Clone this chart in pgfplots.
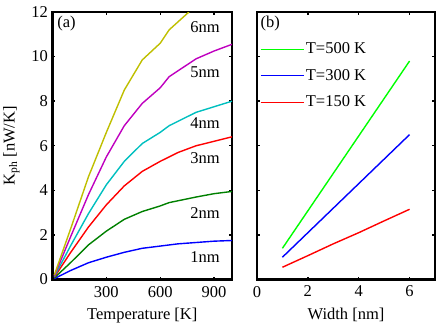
\documentclass[border=0pt]{standalone}
\usepackage{pgfplots}
\pgfplotsset{compat=1.18}
\usepackage{fontspec}
\setmainfont{Liberation Serif}
\definecolor{myy}{rgb}{0.75,0.75,0}
\definecolor{mym}{rgb}{0.75,0,0.75}
\definecolor{myc}{rgb}{0,0.75,0.75}
\definecolor{myg}{rgb}{0,0.5,0}
\begin{document}
\begin{tikzpicture}
\pgfplotsset{
  every axis/.append style={
    scale only axis,
    width=179.5pt, height=267.5pt,
    axis line style={line width=2.2pt},
    tick style={line width=1.4pt, black},
    tick align=inside,
    major tick length=3pt,
    font=\fontsize{16.5}{18}\selectfont,
    /pgf/number format/assume math mode=true,
    ymin=0, ymax=12,
    ytick={0,2,...,12},
    xticklabel style={yshift=-3pt},
    yticklabel style={xshift=-1pt},
    clip=true,
  },
}
\begin{axis}[
  at={(0pt,0pt)}, anchor=south west,
  xmin=0, xmax=1000,
  xtick={300,600,900},
  xlabel={Temperature [K]},
  ylabel={K$_{\mathrm{ph}}$ [nW/K]},
  xlabel style={yshift=-4pt},
  ylabel style={yshift=5pt},
]
\addplot[blue, line width=1.4pt] coordinates {(10,0.04) (100,0.4) (200,0.75) (300,1.0) (400,1.22) (500,1.4) (600,1.5) (700,1.6) (800,1.66) (900,1.72) (1000,1.75)};
\addplot[myg, line width=1.4pt] coordinates {(10,0.07) (100,0.75) (200,1.55) (300,2.17) (400,2.7) (500,3.05) (600,3.3) (650,3.45) (800,3.7) (900,3.85) (1000,3.95)};
\addplot[red, line width=1.4pt] coordinates {(10,0.1) (100,1.2) (200,2.35) (300,3.35) (400,4.2) (500,4.85) (600,5.3) (700,5.7) (800,6.0) (900,6.2) (1000,6.4)};
\addplot[myc, line width=1.4pt] coordinates {(10,0.13) (100,1.5) (200,2.95) (300,4.25) (400,5.3) (500,6.1) (600,6.6) (650,6.9) (800,7.5) (900,7.75) (1000,8.0)};
\addplot[mym, line width=1.4pt] coordinates {(10,0.16) (100,1.9) (200,3.8) (300,5.5) (400,6.9) (500,7.9) (600,8.6) (650,9.1) (800,9.9) (900,10.25) (1000,10.55)};
\addplot[myy, line width=1.4pt] coordinates {(10,0.2) (100,2.25) (200,4.6) (300,6.6) (400,8.5) (500,9.85) (600,10.6) (650,11.2) (760,12.0)};
\node[anchor=north west, inner sep=1pt] at (axis cs:20,11.85) {(a)};
\node at (axis cs:850,11.3) {6nm};
\node at (axis cs:850,9.3) {5nm};
\node at (axis cs:850,7.0) {4nm};
\node at (axis cs:850,5.45) {3nm};
\node at (axis cs:850,3.0) {2nm};
\node at (axis cs:850,1.0) {1nm};
\end{axis}
\begin{axis}[
  at={(204.5pt,0pt)}, anchor=south west,
  width=178pt,
  xmin=0, xmax=7,
  xtick={0,2,4,6},
  yticklabels={},
  xlabel={Width [nm]},
  xlabel style={yshift=-4pt},
  legend style={draw=none, fill=none, at={(0.0,0.90)}, anchor=north west,
    row sep=10pt, font=\fontsize{16.5}{18}\selectfont},
  legend cell align=left,
  legend image code/.code={\draw[#1, line width=0.7pt] (0pt,0pt) -- (43pt,0pt);},
]
\addplot[green, line width=1.4pt] coordinates {(1,1.4) (2,3.08) (3,4.76) (4,6.44) (5,8.12) (6,9.8)};
\addlegendentry{T=500 K}
\addplot[blue, line width=1.4pt] coordinates {(1,1.0) (2,2.1) (3,3.2) (4,4.3) (5,5.4) (6,6.5)};
\addlegendentry{T=300 K}
\addplot[red, line width=1.4pt] coordinates {(1,0.55) (2,1.07) (3,1.6) (4,2.1) (5,2.63) (6,3.15)};
\addlegendentry{T=150 K}
\node[anchor=north west, inner sep=1pt] at (axis cs:0.1,11.85) {(b)};
\end{axis}
\pgfresetboundingbox
\path (-52.5pt,-53.5pt) rectangle (391.5pt,279.5pt);
\end{tikzpicture}
\end{document}
